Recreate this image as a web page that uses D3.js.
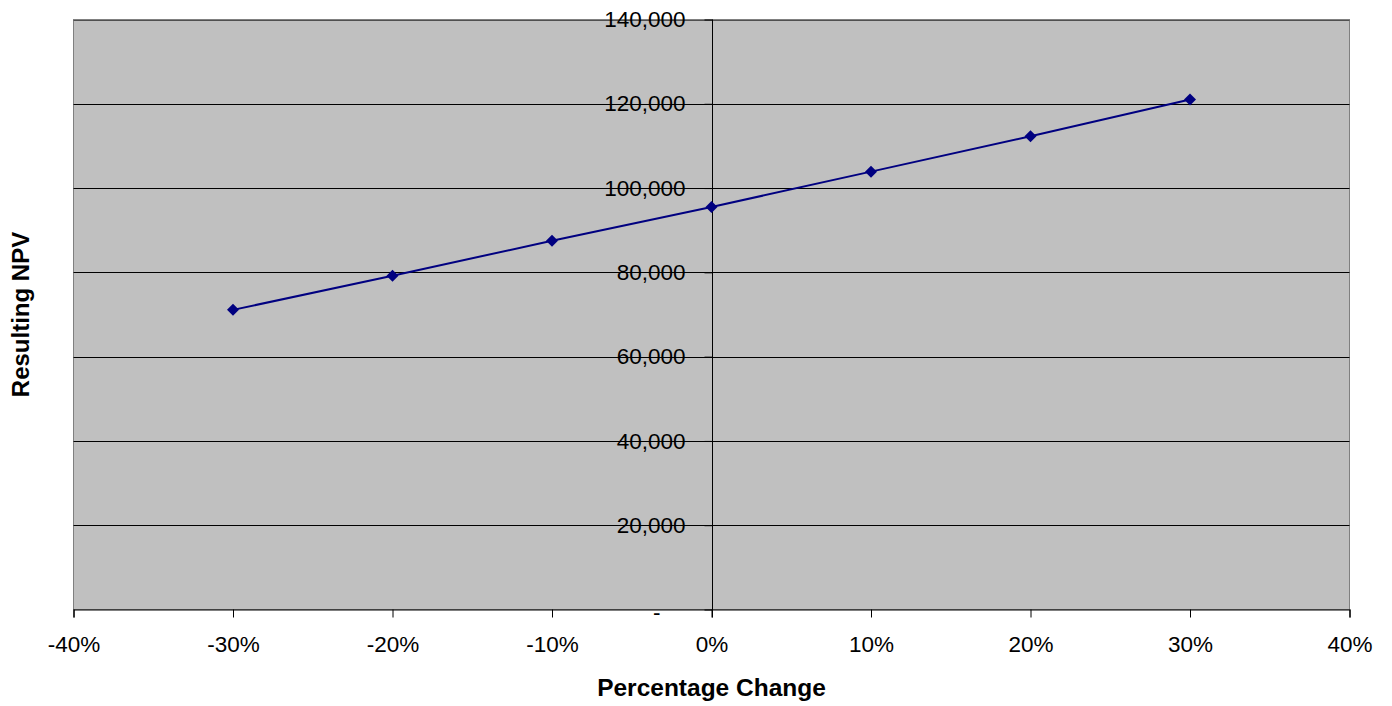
<!DOCTYPE html>
<html>
<head>
<meta charset="utf-8">
<script src="https://cdn.jsdelivr.net/npm/d3@7"></script>
<style>
  html, body { margin: 0; padding: 0; background: #fff; }
  svg { display: block; font-family: "Liberation Sans", Arial, sans-serif; }
</style>
</head>
<body>
<svg id="chart" width="1392" height="706"></svg>
<script>
// Sensitivity of NPV to a percentage change in the input
const changes = [-0.30, -0.20, -0.10, 0.00, 0.10, 0.20, 0.30];
const npvValues = [71100, 79200, 87500, 95500, 103900, 112300, 121000];
const xTicks = [-0.40, -0.30, -0.20, -0.10, 0.00, 0.10, 0.20, 0.30, 0.40];
const yTicks = [0, 20000, 40000, 60000, 80000, 100000, 120000, 140000];
const xTitle = "Percentage Change";
const yTitle = "Resulting NPV";

const svg = d3.select("#chart");
const plot = { left: 73.5, right: 1349.5, top: 19.5, bottom: 609.5 };

const x = d3.scaleLinear().domain([-0.40, 0.40]).range([plot.left, plot.right]);
const y = d3.scaleLinear().domain([0, 140000]).range([plot.bottom, plot.top]);

// plot background
svg.append("rect")
  .attr("x", plot.left).attr("y", plot.top)
  .attr("width", plot.right - plot.left).attr("height", plot.bottom - plot.top)
  .attr("fill", "#c0c0c0")
  .attr("stroke", "#808080").attr("stroke-width", 1);

// horizontal gridlines
svg.append("g")
  .selectAll("line")
  .data(yTicks.filter(d => d > 0))
  .join("line")
  .attr("x1", plot.left).attr("x2", plot.right)
  .attr("y1", d => Math.round(y(d)) + 0.5).attr("y2", d => Math.round(y(d)) + 0.5)
  .attr("stroke", d => d === 140000 ? "#505050" : "#000")
  .attr("stroke-width", 1);

// x axis along the bottom of the plot
const pct = d3.format(".0%");
const xAxis = d3.axisBottom(x)
  .tickValues(xTicks)
  .tickFormat(d => pct(d).replace("\u2212", "-"))
  .tickSize(8)
  .tickPadding(19);
const gx = svg.append("g")
  .attr("transform", `translate(0,${plot.bottom})`)
  .call(xAxis);
gx.select(".domain").attr("stroke", "#000").attr("stroke-width", 1.2);
gx.selectAll(".tick line").attr("stroke", "#000");
gx.selectAll(".tick text").attr("font-size", "22.5px").attr("fill", "#000")
  .attr("font-family", "Liberation Sans, Arial, sans-serif");

// y axis crossing at 0%
const yAxis = d3.axisLeft(y)
  .tickValues(yTicks)
  .tickFormat(d => d === 0 ? "-" : d3.format(",")(d))
  .tickSize(8)
  .tickPadding(19);
const gy = svg.append("g")
  .attr("transform", `translate(${Math.round(x(0)) + 0.5},0)`)
  .call(yAxis);
gy.select(".domain").attr("stroke", "#000").attr("stroke-width", 1)
  .attr("d", `M0,${plot.top}V${plot.bottom + 8}`);
gy.selectAll(".tick line").attr("stroke", "#000");
gy.selectAll(".tick text").attr("font-size", "22.5px").attr("fill", "#000")
  .attr("font-family", "Liberation Sans, Arial, sans-serif");
gy.selectAll(".tick").filter(d => d === 0).select("text")
  .attr("dx", -25).attr("dy", "0.45em");

// data line and diamond markers
const pts = changes.map((c, i) => ({ c, v: npvValues[i] }));
svg.append("path")
  .datum(pts)
  .attr("fill", "none")
  .attr("stroke", "#000080")
  .attr("stroke-width", 2)
  .attr("d", d3.line().x(d => x(d.c)).y(d => y(d.v)));

svg.append("g")
  .selectAll("path")
  .data(pts)
  .join("path")
  .attr("transform", d => `translate(${x(d.c)},${y(d.v)})`)
  .attr("d", "M0,-6L6,0L0,6L-6,0Z")
  .attr("fill", "#000080");

// axis titles
svg.append("text")
  .attr("x", (plot.left + plot.right) / 2)
  .attr("y", 696)
  .attr("text-anchor", "middle")
  .attr("font-weight", "bold")
  .attr("font-size", "24.5px")
  .text(xTitle);

svg.append("text")
  .attr("transform", `translate(29,${(plot.top + plot.bottom) / 2}) rotate(-90)`)
  .attr("text-anchor", "middle")
  .attr("font-weight", "bold")
  .attr("font-size", "24px")
  .text(yTitle);
</script>
</body>
</html>
